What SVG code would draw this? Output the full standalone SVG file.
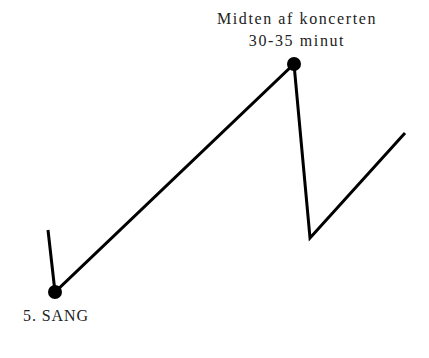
<svg xmlns="http://www.w3.org/2000/svg" width="429" height="358" viewBox="0 0 429 358">
<style>
.lbl{font-family:"Liberation Serif","DejaVu Serif",serif;font-size:16px;fill:#222;letter-spacing:1.6px}
.dot{fill:#000}
</style>
<rect width="429" height="358" fill="#fff"/>
<g id="connectors">
<polyline points="48,230 55,292 294,64 310,238 405,133" fill="none" stroke="#000" stroke-width="3" stroke-linejoin="miter"/>
</g>
<g id="node-start">
<circle class="dot" cx="55" cy="292" r="7"/>
<text class="lbl" x="23" y="321" style="letter-spacing:0.9px">5. SANG</text>
</g>
<g id="node-middle">
<circle class="dot" cx="294" cy="64" r="7"/>
<text class="lbl" x="297" y="24" text-anchor="middle">Midten af koncerten</text>
<text class="lbl" x="297" y="46" text-anchor="middle">30-35 minut</text>
</g>
</svg>
